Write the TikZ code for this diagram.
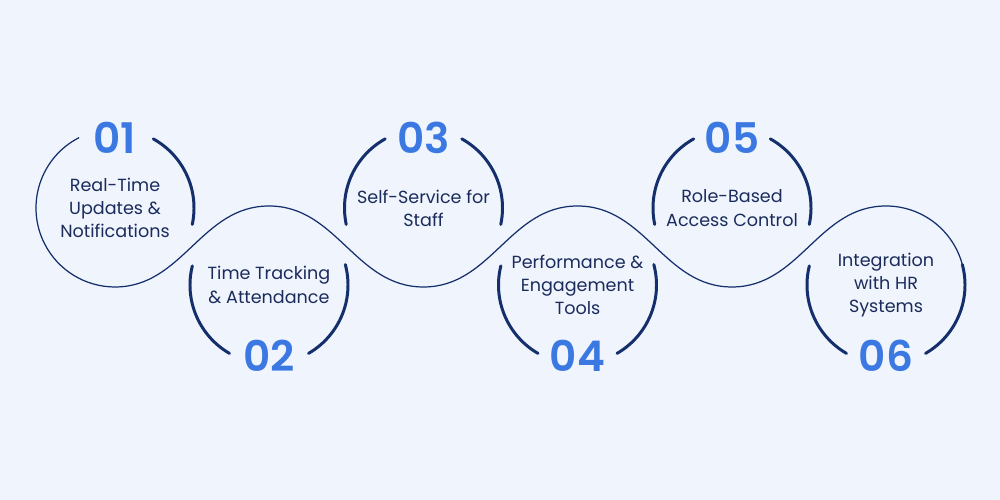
\documentclass[tikz,border=0pt]{standalone}
\usepackage{fontspec}
\setmainfont{Poppins}
\newfontfamily\numfont{Poppins SemiBold}
\definecolor{pagebg}{HTML}{EFF4FD}
\definecolor{navy}{HTML}{142F6B}
\definecolor{inkblue}{HTML}{1B2C5C}
\definecolor{numblue}{HTML}{3B78E1}
\begin{document}
\begin{tikzpicture}[
  stage/.style={circle,minimum size=3.16cm,inner sep=0pt,outer sep=0pt,align=center,
    text=inkblue,font=\fontsize{10}{13.2}\selectfont},
  num/.style={text=numblue,font=\fontsize{24}{24}\numfont,inner sep=0pt},
  wave/.style={navy,line width=0.7pt},
  rim/.style={navy,line width=1.7pt,line cap=round}]
  \fill[pagebg] (0,0) rectangle (20,10);
  % the six stages
  \node[stage] (c1) at (2.30,5.84) {Real-Time\\Updates \&\\Notifications};
  \node[stage] (c2) at (5.38,4.30) {Time Tracking\\\& Attendance};
  \node[stage] (c3) at (8.47,5.84) {Self-Service for\\Staff};
  \node[stage] (c4) at (11.55,4.30) {Performance \&\\Engagement\\Tools};
  \node[stage] (c5) at (14.64,5.84) {Role-Based\\Access Control};
  \node[stage] (c6) at (17.72,4.30) {Integration\\with HR\\Systems};
  \node[num] (n1) at ([yshift=-0.18cm]c1.north) {01};
  \node[num] (n2) at ([yshift=0.16cm]c2.south) {02};
  \node[num] (n3) at ([yshift=-0.18cm]c3.north) {03};
  \node[num] (n4) at ([yshift=0.16cm]c4.south) {04};
  \node[num] (n5) at ([yshift=-0.18cm]c5.north) {05};
  \node[num] (n6) at ([yshift=0.16cm]c6.south) {06};
  % thin wave through all circles
  \draw[wave] (c1.117) arc[start angle=117,end angle=270,radius=1.58]
    to[out=0,in=180] (c2.north) to[out=0,in=180] (c3.south)
    to[out=0,in=180] (c4.north) to[out=0,in=180] (c5.south)
    to[out=0,in=180] (c6.north) arc[start angle=90,end angle=15,radius=1.58];
  % thick rims
  \draw[rim] (c1.61) arc[start angle=61,end angle=-12,radius=1.58];
  \foreach \c in {c3,c5} {
    \draw[rim] (\c.119) arc[start angle=119,end angle=192,radius=1.58];
    \draw[rim] (\c.61) arc[start angle=61,end angle=-12,radius=1.58];
  }
  \foreach \c in {c2,c4,c6} {
    \draw[rim] (\c.166) arc[start angle=166,end angle=240,radius=1.58];
    \draw[rim] (\c.15) arc[start angle=15,end angle=-60,radius=1.58];
  }
\end{tikzpicture}
\end{document}
